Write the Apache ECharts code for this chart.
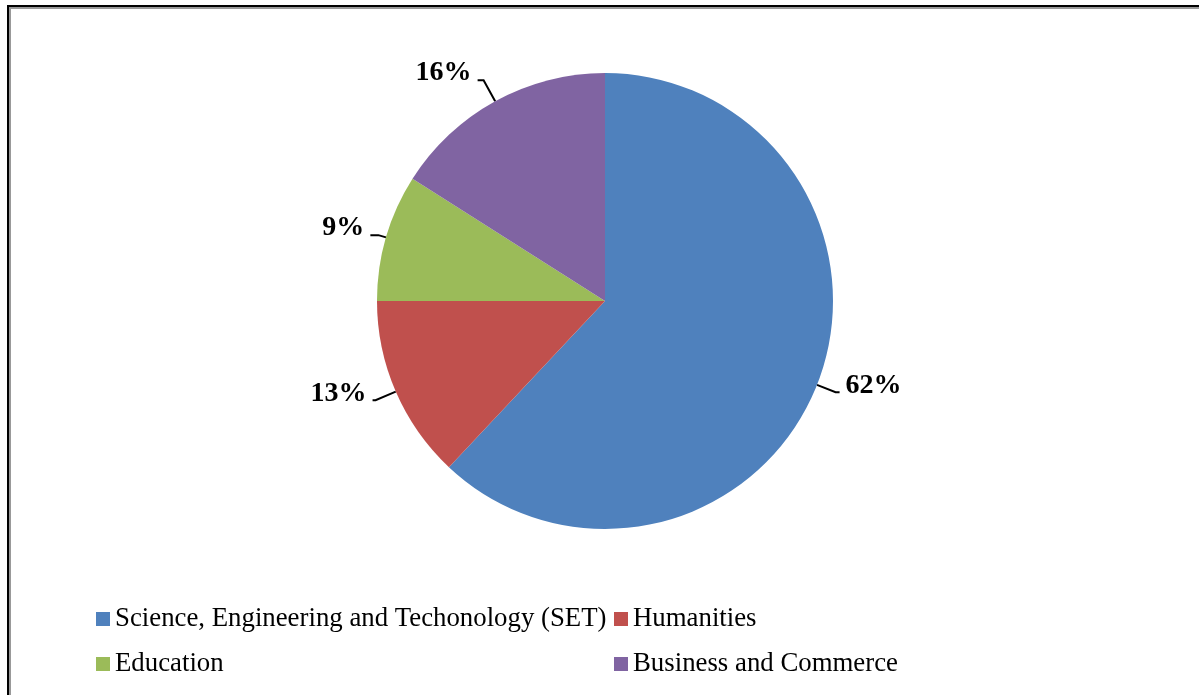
<!DOCTYPE html>
<html>
<head>
<meta charset="utf-8">
<script src="https://cdn.jsdelivr.net/npm/echarts@6/dist/echarts.min.js"></script>
<style>
  html, body { margin: 0; padding: 0; background: #fff; }
  #wrap { position: relative; width: 1199px; height: 695px; overflow: hidden; background: #fff; }
  #frame { position: absolute; left: 7px; top: 5px; width: 1300px; height: 800px;
           border-top: 2px solid #000; border-left: 2px solid #000; box-sizing: border-box; }
  #frame2 { position: absolute; left: 9px; top: 7px; width: 1300px; height: 800px;
           border-top: 2px solid #999; border-left: 2px solid #999; box-sizing: border-box; }
  #chart { position: absolute; left: 0; top: 0; width: 1199px; height: 695px; }
</style>
</head>
<body>
<div id="wrap">
  <div id="frame"></div>
  <div id="frame2"></div>
  <div id="chart"></div>
</div>
<script>
const categories = [
  'Science, Engineering and Techonology (SET)',
  'Humanities',
  'Education',
  'Business and Commerce'
];
const shares = [62, 13, 9, 16];
const colors = ['#4F81BD', '#C0504D', '#9BBB59', '#8064A2'];
const leaderFirst = [20, 22, 8, 24];
const leaderSecond = [4, 3, 8, 6];

const serif = "'Liberation Serif', 'Times New Roman', serif";
const chart = echarts.init(document.getElementById('chart'), null, { renderer: 'canvas' });

const data = categories.map((name, i) => ({
  name: name,
  value: shares[i],
  itemStyle: { color: colors[i] },
  labelLine: { length: leaderFirst[i], length2: leaderSecond[i] }
}));

const legendText = { fontFamily: serif, fontSize: 26.8, color: '#000', lineHeight: 30 };

chart.setOption({
  backgroundColor: 'transparent',
  animation: false,
  legend: [
    {
      orient: 'vertical', left: 91, top: 599,
      data: [categories[0], categories[2]],
      icon: 'rect', itemWidth: 14, itemHeight: 14, itemGap: 15,
      textStyle: legendText, selectedMode: false
    },
    {
      orient: 'vertical', left: 609, top: 599,
      data: [categories[1], categories[3]],
      icon: 'rect', itemWidth: 14, itemHeight: 14, itemGap: 15,
      textStyle: legendText, selectedMode: false
    }
  ],
  series: [{
    type: 'pie',
    center: [605, 301],
    radius: 228,
    startAngle: 90,
    clockwise: true,
    avoidLabelOverlap: false,
    itemStyle: { borderWidth: 0 },
    label: {
      show: true,
      position: 'outside',
      formatter: p => '{v|' + p.value + '%}\n{s| }',
      distanceToLabelLine: 6,
      rich: {
        v: { fontFamily: serif, fontWeight: 'bold', fontSize: 28, color: '#000', lineHeight: 30 },
        s: { fontSize: 1, lineHeight: 14 }
      }
    },
    labelLine: {
      show: true,
      smooth: false,
      lineStyle: { color: '#000', width: 2 }
    },
    emphasis: { disabled: true },
    data: data
  }]
});
</script>
</body>
</html>
